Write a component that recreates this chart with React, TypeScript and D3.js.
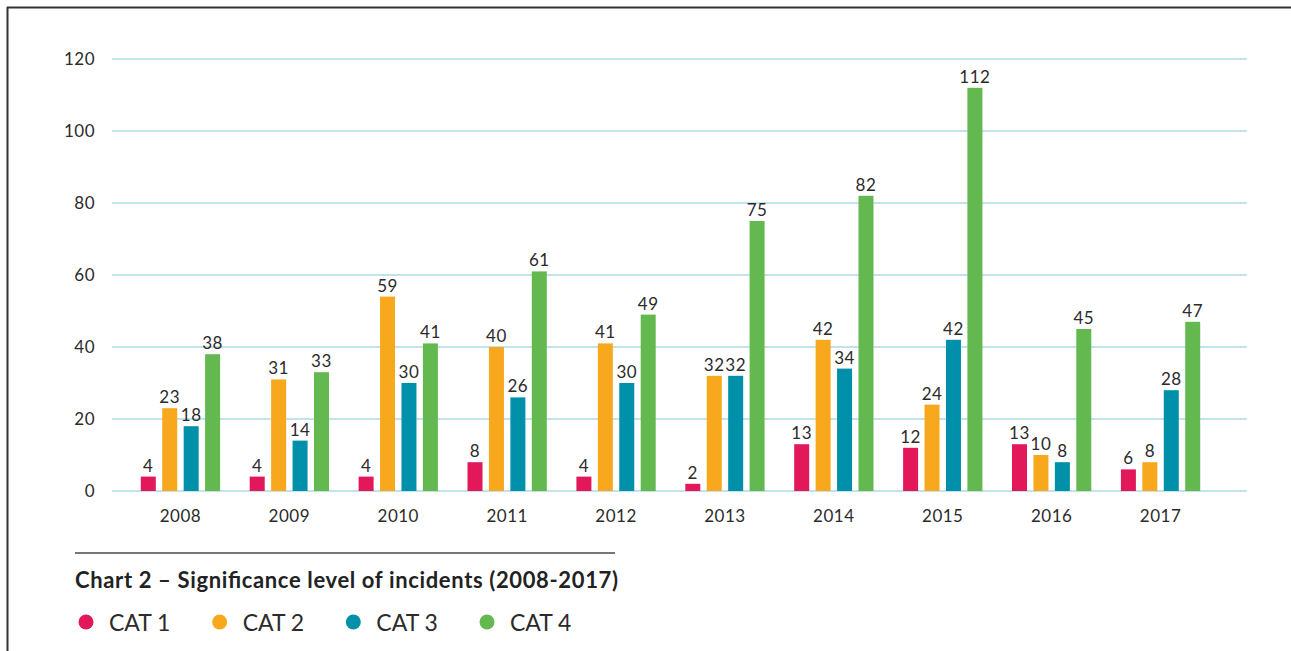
import React from "react";
import * as d3 from "d3";

const years = ["2008", "2009", "2010", "2011", "2012", "2013", "2014", "2015", "2016", "2017"];
const categories = ["CAT 1", "CAT 2", "CAT 3", "CAT 4"];
const colors = ["#e2185b", "#f8a81c", "#0090a9", "#63b950"];
const yTicks = [0, 20, 40, 60, 80, 100, 120];

// bar heights as drawn in the picture
const cat1 = [4, 4, 4, 8, 4, 2, 13, 12, 13, 6];
const cat2 = [23, 31, 54, 40, 41, 32, 42, 24, 10, 8];
const cat3 = [18, 14, 30, 26, 30, 32, 34, 42, 8, 28];
const cat4 = [38, 33, 41, 61, 49, 75, 82, 112, 45, 47];

// printed value labels
const cat1Labels = [4, 4, 4, 8, 4, 2, 13, 12, 13, 6];
const cat2Labels = [23, 31, 59, 40, 41, 32, 42, 24, 10, 8];
const cat3Labels = [18, 14, 30, 26, 30, 32, 34, 42, 8, 28];
const cat4Labels = [38, 33, 41, 61, 49, 75, 82, 112, 45, 47];

const title = "Chart 2 \u2013 Significance level of incidents (2008-2017)";

const series = [cat1, cat2, cat3, cat4];
const seriesLabels = [cat1Labels, cat2Labels, cat3Labels, cat4Labels];

export default function App() {
  const W = 1291;
  const H = 651;
  const gridX0 = 112;
  const gridX1 = 1247;

  const y = d3.scaleLinear().domain([0, 120]).range([491, 59]);
  const x0 = d3.scaleBand<string>().domain(years).range([126, 1215]);
  const x1 = d3
    .scaleBand<string>()
    .domain(categories)
    .range([14.8, 94.1])
    .paddingInner(0.3);

  const smallFont = {
    fontFamily: "Lato, 'Open Sans', sans-serif",
    fontSize: 17,
    letterSpacing: 0.5,
    fill: "#2b2b2b",
  } as const;

  const legendX = d3.scaleLinear().domain([0, 3]).range([86, 487]);

  return (
    <svg
      width={W}
      height={H}
      style={{ position: "absolute", left: 0, top: 0, background: "#fff" }}
    >
      {/* frame */}
      <line x1={7} y1={7.5} x2={W} y2={7.5} stroke="#333" strokeWidth={2} />
      <line x1={7.5} y1={7} x2={7.5} y2={H} stroke="#333" strokeWidth={2} />

      {/* gridlines */}
      {yTicks.map((t) => (
        <g key={t}>
          <line
            x1={gridX0}
            x2={gridX1}
            y1={y(t)}
            y2={y(t)}
            stroke="#c3e2ec"
            strokeWidth={2}
          />
          <text
            x={95}
            y={y(t)}
            dy="0.35em"
            textAnchor="end"
            {...smallFont}
          >
            {t}
          </text>
        </g>
      ))}

      {/* bars */}
      {years.map((yr, i) => (
        <g key={yr} transform={`translate(${x0(yr)},0)`}>
          {categories.map((c, j) => {
            const v = series[j][i];
            const bx = x1(c) as number;
            const bw = x1.bandwidth();
            return (
              <g key={c}>
                <rect
                  x={bx}
                  y={y(v)}
                  width={bw}
                  height={y(0) - y(v)}
                  fill={colors[j]}
                />
                <text
                  x={bx + bw / 2}
                  y={y(v) - 5}
                  textAnchor="middle"
                  {...smallFont}
                >
                  {seriesLabels[j][i]}
                </text>
              </g>
            );
          })}
          <text
            x={x0.bandwidth() / 2}
            y={522}
            textAnchor="middle"
            {...smallFont}
          >
            {yr}
          </text>
        </g>
      ))}

      {/* caption rule */}
      <line x1={75} x2={615} y1={553} y2={553} stroke="#777" strokeWidth={2} />

      {/* title */}
      <text
        x={75}
        y={588}
        fontFamily="Lato, 'Open Sans', sans-serif"
        fontWeight={700}
        fontSize={22}
        fill="#222"
        textLength={543}
        lengthAdjust="spacing"
      >
        {title}
      </text>

      {/* legend */}
      {categories.map((c, j) => (
        <g key={c} transform={`translate(${legendX(j)},622)`}>
          <circle r={7.5} fill={colors[j]} />
          <text
            x={23}
            y={9}
            fontFamily="Lato, 'Open Sans', sans-serif"
            fontSize={23}
            fill="#2b2b2b"
          >
            {c}
          </text>
        </g>
      ))}
    </svg>
  );
}
